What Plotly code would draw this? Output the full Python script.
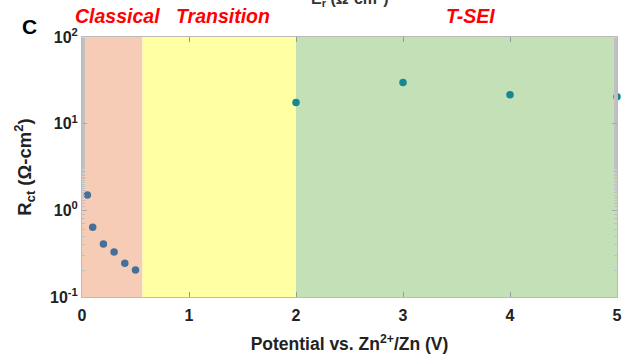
import plotly.graph_objects as go

# Data
classical_x = [0.05, 0.1, 0.2, 0.3, 0.4, 0.5]
classical_y = [1.5, 0.64, 0.41, 0.33, 0.245, 0.205]
tsei_x = [2, 3, 4, 5]
tsei_y = [17.6, 29.9, 21.6, 20.5]
region_edges = [0, 0.565, 2, 5]
region_names = ["Classical", "Transition", "T-SEI"]
region_label_x = [0.33, 1.32, 3.63]
region_colors = ["#F6CCB6", "#FFFFA3", "#C3E0B6"]
x_ticks = [0, 1, 2, 3, 4, 5]
y_ticks = [0.1, 1, 10, 100]
y_tick_text = ["10<sup>-1</sup>", "10<sup>0</sup>", "10<sup>1</sup>", "10<sup>2</sup>"]

FONT = "Liberation Sans, Arial, sans-serif"

fig = go.Figure()

for i in range(3):
    fig.add_shape(type="rect", xref="x", yref="paper",
                  x0=region_edges[i], x1=region_edges[i + 1], y0=0, y1=1,
                  fillcolor=region_colors[i], line_width=0, layer="below")

fig.add_trace(go.Scatter(x=classical_x, y=classical_y, mode="markers",
                         marker=dict(color="#46709A", size=7.5), showlegend=False, cliponaxis=False))
fig.add_trace(go.Scatter(x=tsei_x, y=tsei_y, mode="markers",
                         marker=dict(color="#178794", size=7.5), showlegend=False, cliponaxis=False))

# region labels
for name, lx in zip(region_names, region_label_x):
    fig.add_annotation(x=lx, y=1, xref="x", yref="paper", xanchor="center", yanchor="middle",
                       yshift=21, text=f"<b><i>{name}</i></b>", showarrow=False,
                       font=dict(family=FONT, size=19.5, color="#FF0000"))

fig.add_annotation(x=-0.098, y=1, xref="paper", yref="paper", xanchor="center", yanchor="middle",
                   yshift=11, text="<b>C</b>", showarrow=False,
                   font=dict(family=FONT, size=21, color="#000000"))

# cropped top title
fig.add_annotation(x=0.5, y=1, xref="paper", yref="paper", xanchor="center", yanchor="bottom",
                   yshift=26, text="<b>E<sub>r</sub> (\u03a9\u00b7cm<sup>2</sup>)</b>", showarrow=False,
                   font=dict(family=FONT, size=16, color="#333333"))

fig.update_layout(
    width=626, height=360,
    margin=dict(l=82, r=4, t=37, b=63),
    paper_bgcolor="white", plot_bgcolor="white",
    font=dict(family=FONT, color="#222222"),
    xaxis=dict(range=[0, 5], tickvals=x_ticks,
               ticktext=[f"<b>{v}</b>" for v in x_ticks],
               ticks="inside", ticklen=5, ticklabelstandoff=4, ticklabeloverflow="allow",
               tickcolor="#999999", showline=True, linecolor="#BBBBBB", mirror="ticks",
               showgrid=False, zeroline=False,
               tickfont=dict(family=FONT, size=16, color="#222222"),
               title=dict(text="<b>Potential vs. Zn<sup>2+</sup>/Zn (V)</b>",
                          font=dict(family=FONT, size=17.5, color="#222222"), standoff=14)),
    yaxis=dict(type="log", range=[-1, 2], tickvals=y_ticks,
               ticktext=[f"<b>{t}</b>" for t in y_tick_text],
               ticks="inside", ticklen=5, tickcolor="#AAAAAA", ticklabeloverflow="allow",
               minor=dict(ticks="inside", ticklen=3, tickcolor="#C0C0C0", tickwidth=0.7,
                          showgrid=False),
               showline=True, linecolor="#BBBBBB", mirror="ticks",
               showgrid=False, zeroline=False,
               tickfont=dict(family=FONT, size=16, color="#222222"),
               title=dict(text="<b>R<sub>ct</sub> (\u03a9-cm<sup>2</sup>)</b>",
                          font=dict(family=FONT, size=18.5, color="#222222"), standoff=13)),
)

fig.write_html("out.html")
